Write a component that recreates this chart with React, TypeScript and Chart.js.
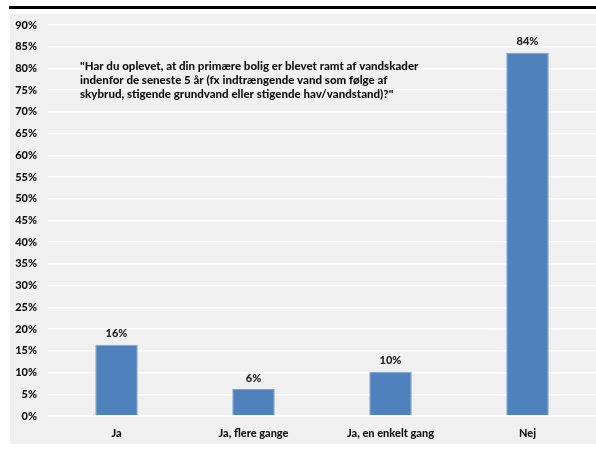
import React, { useEffect, useRef } from "react";
import { Chart, registerables } from "chart.js";

Chart.register(...registerables);

const categories = ["Ja", "Ja, flere gange", "Ja, en enkelt gang", "Nej"];
const shares = [16.4, 6.2, 10.2, 83.6];
const shareLabels = ["16%", "6%", "10%", "84%"];
const questionLines = [
  "\"Har du oplevet, at din primære bolig er blevet ramt af vandskader",
  "indenfor de seneste 5 år (fx indtrængende vand som følge af",
  "skybrud, stigende grundvand eller stigende hav/vandstand)?\"",
];

const FONT = "Lato, 'Open Sans', sans-serif";
const W = "900";

const labelPlugin = {
  id: "barLabels",
  afterDatasetsDraw(chart: any) {
    const ctx = chart.ctx;
    const meta = chart.getDatasetMeta(0);
    ctx.save();
    ctx.font = `${W} 11px ${FONT}`;
    ctx.fillStyle = "#222";
    ctx.textAlign = "center";
    ctx.textBaseline = "middle";
    meta.data.forEach((bar: any, i: number) => {
      ctx.fillText(shareLabels[i], bar.x, bar.y - 11);
    });
    ctx.restore();
  },
};

const questionPlugin = {
  id: "question",
  afterDraw(chart: any) {
    const ctx = chart.ctx;
    const { left, top } = chart.chartArea;
    ctx.save();
    ctx.font = `${W} 11.5px ${FONT}`;
    ctx.fillStyle = "#111";
    ctx.textAlign = "left";
    ctx.textBaseline = "middle";
    questionLines.forEach((line, i) => {
      ctx.fillText(line, left + 32, top + 41 + i * 14);
    });
    ctx.restore();
  },
};

export default function App() {
  const ref = useRef<HTMLCanvasElement>(null);
  useEffect(() => {
    if (!ref.current) return;
    const chart = new Chart(ref.current, {
      type: "bar",
      data: {
        labels: categories,
        datasets: [
          {
            data: shares,
            backgroundColor: "#4f81bd",
            borderColor: "#7ea3d3",
            borderWidth: 1,
            barPercentage: 0.62,
            categoryPercentage: 0.5,
          },
        ],
      },
      options: {
        animation: false,
        responsive: false,
        maintainAspectRatio: false,
        layout: { padding: { top: 11, left: 0, right: 0, bottom: 0 } },
        plugins: { legend: { display: false }, tooltip: { enabled: false } },
        scales: {
          x: {
            grid: { display: false, drawTicks: false },
            border: { display: false },
            ticks: {
              color: "#111",
              font: { family: FONT, size: 11, weight: W },
              padding: 11,
              maxRotation: 0,
            },
            afterFit(scale: any) {
              scale.height = 28;
              scale.paddingLeft = 0;
              scale.paddingRight = 0;
            },
          },
          y: {
            min: 0,
            max: 90,
            grid: { color: "#ffffff", lineWidth: 1.5, drawTicks: false },
            border: { display: false },
            ticks: {
              stepSize: 5,
              color: "#111",
              font: { family: FONT, size: 11, weight: W },
              padding: 11,
              callback: (v: any) => `${v}%`,
            },
            afterFit(scale: any) {
              scale.width = 38;
              scale.paddingTop = 0;
              scale.paddingBottom = 0;
            },
          },
        },
      },
      plugins: [labelPlugin, questionPlugin],
    });
    return () => chart.destroy();
  }, []);

  return (
    <div style={{ position: "absolute", left: 0, top: 0, width: 596, height: 456, background: "#fff" }}>
      <div style={{ position: "absolute", left: 9, top: 6, width: 587, height: 3, background: "#000" }} />
      <div style={{ position: "absolute", left: 10, top: 14, width: 586, height: 430, background: "#f0f0f0" }}>
        <canvas ref={ref} width={586} height={430} style={{ display: "block" }} />
      </div>
    </div>
  );
}
